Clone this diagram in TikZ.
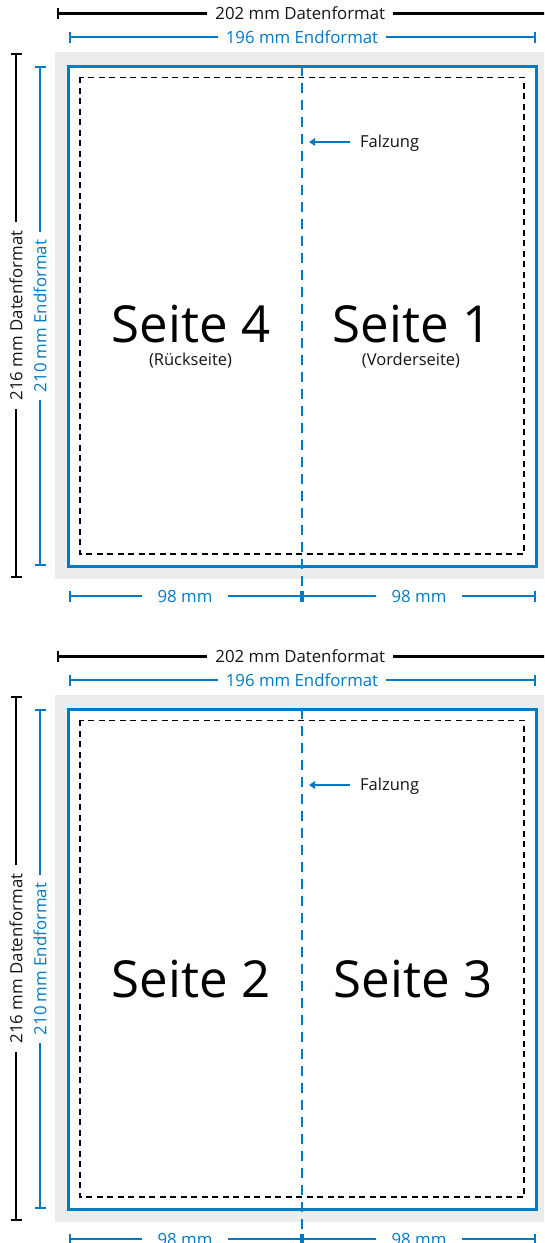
\documentclass[tikz,border=0pt]{standalone}
\usepackage{fontspec}
\setmainfont{Open Sans}
\usetikzlibrary{arrows.meta,calc}
\definecolor{cblue}{RGB}{0,122,194}
\definecolor{cgray}{RGB}{235,236,236}
\definecolor{ctext}{RGB}{20,20,20}
\tikzset{
  tk/.tip={Bar[width=11pt,line width=2.4pt]},
  fh/.tip={Triangle[length=6pt,width=7.5pt]},
}
\begin{document}
\begin{tikzpicture}[x=1pt,y=-1pt,
  bleed/.style={fill=cgray,draw=none},
  trim/.style={draw=cblue,fill=white,line width=3pt},
  safe/.style={draw=black,line width=1.6pt,dash pattern=on 6pt off 4.5pt},
  fold/.style={draw=cblue,line width=2.6pt,dash pattern=on 10pt off 7pt},
  dimb/.style={draw=black,line width=2.4pt},
  dimc/.style={draw=cblue,line width=2.4pt},
  dimtxt/.style={font=\fontsize{16.8}{18}\selectfont,inner xsep=8pt,inner ysep=0pt,text=ctext},
  dimtxtc/.style={dimtxt,text=cblue},
  mmtxt/.style={dimtxtc,inner xsep=15pt},
  big/.style={font=\fontsize{51}{56}\selectfont,text=black,inner sep=0pt},
  sub/.style={font=\fontsize{16.5}{18}\selectfont,text=ctext,inner sep=0pt},
  falz/.style={font=\fontsize{16.5}{18}\selectfont,text=ctext,inner xsep=10pt,inner ysep=0pt},
  farrow/.style={draw=cblue,line width=2.4pt,-fh},
]
\clip (0,0) rectangle (544,1243);

% ================= top panel =================
\fill[bleed] (55,52) rectangle (552,579);
\draw[trim] (68.5,66) rectangle (536,566);
\draw[safe] (80,77.3) rectangle (524,554);
\coordinate (A-ft) at (302,66);
\coordinate (A-fb) at (302,601);
\draw[fold] (A-ft) -- (A-fb);

% 202 mm
\coordinate (A-h1l) at (56.7,13.5);
\coordinate (A-h1r) at (548,13.5);
\node[dimtxt] (A-h1t) at (300.3,13.5) {202 mm Datenformat};
\draw[dimb,tk-] (A-h1l) -- (A-h1t.west |- A-h1l);
\draw[dimb,-tk] (A-h1t.east |- A-h1l) -- (A-h1r);
% 196 mm
\coordinate (A-h2l) at (68.5,37);
\coordinate (A-h2r) at (536,37);
\node[dimtxtc] (A-h2t) at (302,37) {196 mm Endformat};
\draw[dimc,tk-] (A-h2l) -- (A-h2t.west |- A-h2l);
\draw[dimc,-tk] (A-h2t.east |- A-h2l) -- (A-h2r);
% 216 mm
\coordinate (A-v1t) at (16,53);
\coordinate (A-v1b) at (16,578);
\node[dimtxt,rotate=90] (A-v1x) at (16,315.5) {216 mm Datenformat};
\draw[dimb,tk-] (A-v1b) -- (A-v1b |- A-v1x.west);
\draw[dimb,-tk] (A-v1t |- A-v1x.east) -- (A-v1t);
% 210 mm
\coordinate (A-v2t) at (40,66);
\coordinate (A-v2b) at (40,566);
\node[dimtxtc,rotate=90] (A-v2x) at (40,316) {210 mm Endformat};
\draw[dimc,tk-] (A-v2b) -- (A-v2b |- A-v2x.west);
\draw[dimc,-tk] (A-v2t |- A-v2x.east) -- (A-v2t);
% 98 mm
\coordinate (A-m1) at (68.5,596);
\coordinate (A-m2) at (302,596);
\coordinate (A-m3) at (536,596);
\node[mmtxt] (A-mt1) at (185,596) {98 mm};
\node[mmtxt] (A-mt2) at (419,596) {98 mm};
\draw[dimc,tk-] (A-m1) -- (A-mt1.west |- A-m1);
\draw[dimc,-tk] (A-mt1.east |- A-m1) -- (A-m2);
\draw[dimc,tk-] (A-m2) -- (A-mt2.west |- A-m2);
\draw[dimc,-tk] (A-mt2.east |- A-m2) -- (A-m3);
% Falzung
\coordinate (A-fz) at (309,142);
\node[falz,anchor=base west] (A-fl) at (350,147.5) {Falzung};
\draw[farrow] (A-fl.west |- A-fz) -- (A-fz);
% pages
\node[big,anchor=base] (A-pl) at (191,342) {Seite 4};
\node[sub,anchor=base] (A-pls) at (190.5,365) {(Rückseite)};
\node[big,anchor=base] (A-pr) at (412,342) {Seite 1};
\node[sub,anchor=base] (A-prs) at (411,365) {(Vorderseite)};

% ================= bottom panel =================
\fill[bleed] (55,695) rectangle (552,1222);
\draw[trim] (68.5,709) rectangle (536,1209);
\draw[safe] (80,720.3) rectangle (524,1197);
\coordinate (B-ft) at (302,709);
\coordinate (B-fb) at (302,1244);
\draw[fold] (B-ft) -- (B-fb);

% 202 mm
\coordinate (B-h1l) at (56.7,656.5);
\coordinate (B-h1r) at (548,656.5);
\node[dimtxt] (B-h1t) at (300.3,656.5) {202 mm Datenformat};
\draw[dimb,tk-] (B-h1l) -- (B-h1t.west |- B-h1l);
\draw[dimb,-tk] (B-h1t.east |- B-h1l) -- (B-h1r);
% 196 mm
\coordinate (B-h2l) at (68.5,680);
\coordinate (B-h2r) at (536,680);
\node[dimtxtc] (B-h2t) at (302,680) {196 mm Endformat};
\draw[dimc,tk-] (B-h2l) -- (B-h2t.west |- B-h2l);
\draw[dimc,-tk] (B-h2t.east |- B-h2l) -- (B-h2r);
% 216 mm
\coordinate (B-v1t) at (16,696);
\coordinate (B-v1b) at (16,1221);
\node[dimtxt,rotate=90] (B-v1x) at (16,958.5) {216 mm Datenformat};
\draw[dimb,tk-] (B-v1b) -- (B-v1b |- B-v1x.west);
\draw[dimb,-tk] (B-v1t |- B-v1x.east) -- (B-v1t);
% 210 mm
\coordinate (B-v2t) at (40,709);
\coordinate (B-v2b) at (40,1209);
\node[dimtxtc,rotate=90] (B-v2x) at (40,959) {210 mm Endformat};
\draw[dimc,tk-] (B-v2b) -- (B-v2b |- B-v2x.west);
\draw[dimc,-tk] (B-v2t |- B-v2x.east) -- (B-v2t);
% 98 mm
\coordinate (B-m1) at (68.5,1239);
\coordinate (B-m2) at (302,1239);
\coordinate (B-m3) at (536,1239);
\node[mmtxt] (B-mt1) at (185,1239) {98 mm};
\node[mmtxt] (B-mt2) at (419,1239) {98 mm};
\draw[dimc,tk-] (B-m1) -- (B-mt1.west |- B-m1);
\draw[dimc,-tk] (B-mt1.east |- B-m1) -- (B-m2);
\draw[dimc,tk-] (B-m2) -- (B-mt2.west |- B-m2);
\draw[dimc,-tk] (B-mt2.east |- B-m2) -- (B-m3);
% Falzung
\coordinate (B-fz) at (309,785);
\node[falz,anchor=base west] (B-fl) at (350,790.5) {Falzung};
\draw[farrow] (B-fl.west |- B-fz) -- (B-fz);
% pages
\node[big,anchor=base] (B-pl) at (191,997) {Seite 2};
\node[big,anchor=base] (B-pr) at (413,997) {Seite 3};
\end{tikzpicture}
\end{document}
